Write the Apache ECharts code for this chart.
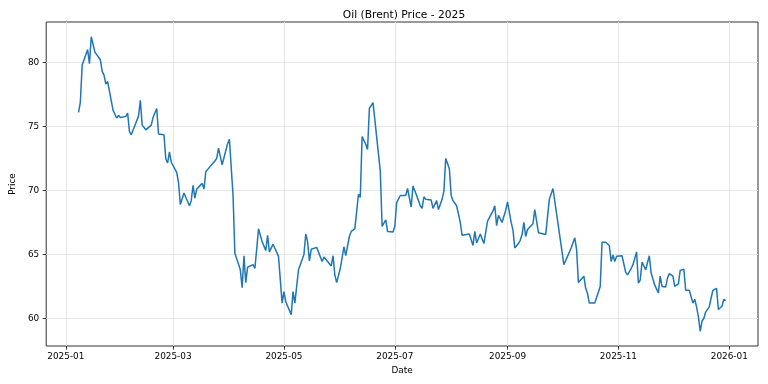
<!DOCTYPE html>
<html>
<head>
<meta charset="utf-8">
<script src="https://cdn.jsdelivr.net/npm/echarts@6/dist/echarts.min.js"></script>
<style>html,body{margin:0;padding:0;background:#fff}#c{width:768px;height:384px}</style>
</head>
<body>
<div id="c"></div>
<script>
const titleText = 'Oil (Brent) Price - 2025';
const xName = 'Date';
const yName = 'Price';
const xTickDates = ['2025-01-01','2025-03-01','2025-05-01','2025-07-01','2025-09-01','2025-11-01','2026-01-01'];
const xTickLabels = ['2025-01','2025-03','2025-05','2025-07','2025-09','2025-11','2026-01'];
const yTicks = [60, 65, 70, 75, 80];

const dates = [
 '2025-01-08','2025-01-09','2025-01-10','2025-01-13','2025-01-14','2025-01-15','2025-01-17','2025-01-20','2025-01-21','2025-01-22','2025-01-23','2025-01-24','2025-01-27','2025-01-28','2025-01-29','2025-01-30','2025-01-31',
 '2025-02-03','2025-02-04','2025-02-05','2025-02-06','2025-02-10','2025-02-11','2025-02-12','2025-02-14','2025-02-17','2025-02-18','2025-02-20','2025-02-21','2025-02-24','2025-02-25','2025-02-26','2025-02-27','2025-02-28',
 '2025-03-03','2025-03-04','2025-03-05','2025-03-06','2025-03-07','2025-03-10','2025-03-11','2025-03-12','2025-03-13','2025-03-14','2025-03-17','2025-03-18','2025-03-19','2025-03-21','2025-03-24','2025-03-25','2025-03-26','2025-03-28','2025-03-31',
 '2025-04-01','2025-04-02','2025-04-03','2025-04-04','2025-04-07','2025-04-08','2025-04-09','2025-04-10','2025-04-11','2025-04-14','2025-04-15','2025-04-16','2025-04-17','2025-04-19','2025-04-21','2025-04-22','2025-04-23','2025-04-25','2025-04-28','2025-04-30',
 '2025-05-01','2025-05-02','2025-05-05','2025-05-06','2025-05-07','2025-05-09','2025-05-10','2025-05-12','2025-05-13','2025-05-14','2025-05-15','2025-05-16','2025-05-19','2025-05-20','2025-05-22','2025-05-23','2025-05-25','2025-05-27','2025-05-28','2025-05-29','2025-05-30',
 '2025-06-01','2025-06-03','2025-06-04','2025-06-06','2025-06-07','2025-06-09','2025-06-10','2025-06-11','2025-06-12','2025-06-13','2025-06-15','2025-06-16','2025-06-17','2025-06-19','2025-06-20','2025-06-23','2025-06-24','2025-06-26','2025-06-27','2025-06-30',
 '2025-07-01','2025-07-02','2025-07-03','2025-07-04','2025-07-07','2025-07-08','2025-07-09','2025-07-10','2025-07-11','2025-07-13','2025-07-15','2025-07-16','2025-07-17','2025-07-18','2025-07-21','2025-07-22','2025-07-23','2025-07-24','2025-07-25','2025-07-27','2025-07-28','2025-07-29','2025-07-30','2025-07-31',
 '2025-08-01','2025-08-02','2025-08-04','2025-08-06','2025-08-07','2025-08-08','2025-08-11','2025-08-13','2025-08-14','2025-08-15','2025-08-17','2025-08-19','2025-08-21','2025-08-22','2025-08-24','2025-08-25','2025-08-26','2025-08-27','2025-08-29','2025-08-31',
 '2025-09-01','2025-09-02','2025-09-03','2025-09-04','2025-09-05','2025-09-07','2025-09-08','2025-09-09','2025-09-10','2025-09-11','2025-09-12','2025-09-15','2025-09-16','2025-09-18','2025-09-22','2025-09-24','2025-09-25','2025-09-26','2025-09-30',
 '2025-10-02','2025-10-04','2025-10-06','2025-10-07','2025-10-08','2025-10-09','2025-10-10','2025-10-13','2025-10-14','2025-10-15','2025-10-16','2025-10-17','2025-10-19','2025-10-20','2025-10-22','2025-10-23','2025-10-25','2025-10-27','2025-10-28','2025-10-29','2025-10-30','2025-10-31',
 '2025-11-03','2025-11-05','2025-11-06','2025-11-08','2025-11-09','2025-11-11','2025-11-12','2025-11-13','2025-11-14','2025-11-16','2025-11-18','2025-11-19','2025-11-20','2025-11-21','2025-11-23','2025-11-24','2025-11-25','2025-11-27','2025-11-28','2025-11-29',
 '2025-12-01','2025-12-02','2025-12-04','2025-12-05','2025-12-07','2025-12-08','2025-12-09','2025-12-10','2025-12-12','2025-12-13','2025-12-14','2025-12-15','2025-12-16','2025-12-17','2025-12-18','2025-12-19','2025-12-21','2025-12-22','2025-12-23','2025-12-24','2025-12-25','2025-12-26','2025-12-27','2025-12-28','2025-12-29','2025-12-30'
];
const prices = [
 76.1,76.9,79.8,81.0,79.9,82.0,80.8,80.2,79.3,79.0,78.3,78.5,76.25,76.4,75.65,75.86,75.7,
 75.78,76.04,74.6,74.34,75.8,77.04,75.1,74.73,75.1,75.7,76.4,74.4,74.34,72.45,72.14,73.0,72.2,
 71.4,70.6,68.9,69.0,69.8,68.8,69.2,70.4,69.4,70.1,70.55,70.1,71.45,71.8,72.3,72.5,73.3,72.0,73.65,
 74.0,74.15,69.6,65.1,63.8,62.4,64.9,62.8,64.0,64.2,63.9,65.4,67.0,66.0,65.3,66.5,65.2,65.8,64.85,61.2,
 62.1,61.3,60.3,62.1,61.2,63.8,64.2,65.0,66.6,66.0,64.5,65.4,65.55,65.4,64.45,64.8,64.45,64.1,64.9,63.4,62.8,
 63.9,65.6,64.9,66.4,66.8,67.0,66.9,69.7,69.45,74.2,73.6,73.2,76.4,76.85,77.0,71.5,67.2,67.7,66.8,66.75,
 67.2,69.05,68.9,69.6,69.6,70.15,70.2,68.7,70.35,69.6,68.8,68.6,69.5,69.3,69.25,68.6,68.55,69.2,68.5,69.3,69.95,72.5,72.45,71.7,
 69.6,69.2,68.8,67.5,66.5,66.6,66.6,65.7,66.8,65.9,66.6,65.85,67.6,67.7,68.4,68.8,67.25,68.05,67.5,68.45,
 69.1,69.1,67.5,66.9,65.5,65.85,66.1,66.55,67.5,66.4,66.95,67.4,68.5,66.7,66.55,69.3,69.4,70.15,66.2,
 64.2,64.85,65.5,65.55,66.3,65.4,62.8,63.3,62.35,61.95,61.2,61.3,61.2,61.05,62.5,65.95,65.95,65.7,64.45,64.95,64.45,64.85,
 64.9,63.6,63.4,63.9,64.2,65.2,62.75,63.0,64.4,63.8,64.9,63.55,63.4,62.6,62.0,63.3,62.5,62.45,63.15,63.5,
 63.3,62.5,62.7,63.75,63.85,62.2,62.05,62.2,61.2,61.5,60.9,60.15,59.0,59.8,60.0,60.5,60.9,61.6,62.2,62.35,62.35,60.7,60.8,60.95,61.5,61.4
];

function toTime(s) { const p = s.split('-').map(Number); return new Date(p[0], p[1] - 1, p[2]).getTime(); }

const times = dates.map(toTime);
const t0 = Math.min(...times), t1 = Math.max(...times);
const pMin = Math.min(...prices), pMax = Math.max(...prices);
const xPad = (t1 - t0) * 0.05, yPad = (pMax - pMin) * 0.05;
const tickTimes = xTickDates.map(toTime);

const chart = echarts.init(document.getElementById('c'), null, { renderer: 'canvas' });
const font = 'DejaVu Sans';
chart.setOption({
  animation: false,
  backgroundColor: '#ffffff',
  textStyle: { fontFamily: font },
  title: {
    text: titleText, left: 399, top: 5, textAlign: 'center',
    textStyle: { fontFamily: font, fontSize: 10.7, fontWeight: 'normal', color: '#000' }
  },
  grid: { left: 39, right: 10, top: 22, bottom: 38, show: true, borderColor: '#333', borderWidth: 1, backgroundColor: 'transparent' },
  xAxis: {
    type: 'value',
    min: t0 - xPad, max: t1 + xPad,
    name: xName, nameLocation: 'middle', nameGap: 19,
    nameTextStyle: { fontFamily: font, fontSize: 8.9, color: '#000' },
    axisLine: { show: false },
    axisTick: { show: true, length: 3.5, customValues: tickTimes, lineStyle: { color: '#333', width: 1 } },
    axisLabel: {
      customValues: tickTimes, margin: 6, fontFamily: font, fontSize: 8.9, color: '#000',
      formatter: function (v) { const i = tickTimes.indexOf(v); return i >= 0 ? xTickLabels[i] : ''; }
    },
    splitLine: { show: true, lineStyle: { color: '#e6e6e6', width: 1 } }
  },
  yAxis: {
    type: 'value',
    min: pMin - yPad, max: pMax + yPad,
    name: yName, nameLocation: 'middle', nameGap: 22, nameRotate: 90,
    nameTextStyle: { fontFamily: font, fontSize: 8.9, color: '#000' },
    axisLine: { show: false },
    axisTick: { show: true, length: 3.5, customValues: yTicks, lineStyle: { color: '#333', width: 1 } },
    axisLabel: { customValues: yTicks, margin: 7, fontFamily: font, fontSize: 8.9, color: '#000' },
    splitLine: { show: true, lineStyle: { color: '#e6e6e6', width: 1 } }
  },
  series: [{
    type: 'line',
    data: times.map((t, i) => [t, prices[i]]),
    showSymbol: false,
    lineStyle: { color: '#1f77b4', width: 1.5 },
    itemStyle: { color: '#1f77b4' }
  }]
});
</script>
</body>
</html>
